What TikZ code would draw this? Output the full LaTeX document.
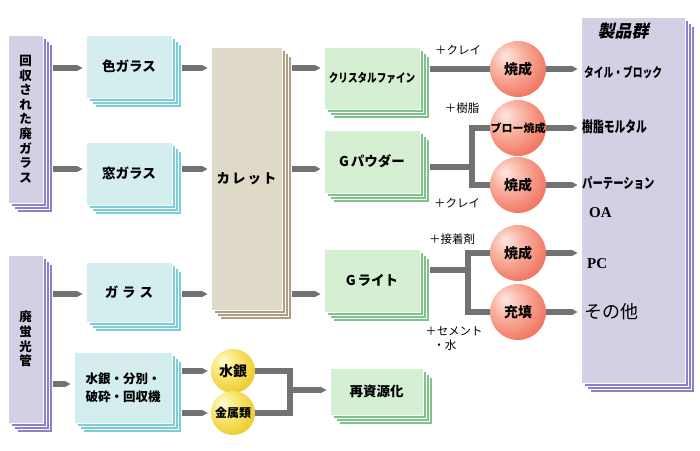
\documentclass[tikz,border=0pt]{standalone}
\usepackage{fontspec}
\setmainfont{Noto Sans CJK JP}
\newfontfamily\serifb{Liberation Serif}
\newfontfamily\jpsl{Noto Sans CJK JP}[FakeSlant=0.22]
\usetikzlibrary{arrows.meta,calc,shadings}
\pgfdeclarelayer{bg}\pgfsetlayers{bg,main}
\definecolor{pfill}{HTML}{D3CFE4}
\definecolor{pedge}{HTML}{8B80CC}
\definecolor{cfill}{HTML}{D4EEF0}
\definecolor{cedge}{HTML}{7CCFD8}
\definecolor{tfill}{HTML}{DEDAC7}
\definecolor{tedge}{HTML}{B09C80}
\definecolor{gfill}{HTML}{D5EFD3}
\definecolor{gedge}{HTML}{7CC48A}
\definecolor{conn}{HTML}{727272}
\definecolor{r0}{RGB}{253,232,225}
\definecolor{r1}{RGB}{249,180,162}
\definecolor{r2}{RGB}{238,100,80}
\definecolor{r3}{RGB}{222,62,46}
\definecolor{y0}{RGB}{255,252,215}
\definecolor{y1}{RGB}{250,232,120}
\definecolor{y2}{RGB}{232,196,30}
\definecolor{y3}{RGB}{205,160,10}
\pgfdeclareradialshading{redsh}{\pgfpoint{-12bp}{12bp}}{color(0bp)=(r0); color(14bp)=(r1); color(38bp)=(r2); color(60bp)=(r3); color(70bp)=(r3)}
\pgfdeclareradialshading{yelsh}{\pgfpoint{-12bp}{12bp}}{color(0bp)=(y0); color(14bp)=(y1); color(38bp)=(y2); color(60bp)=(y3); color(70bp)=(y3)}
\tikzset{
  box/.style={draw=white,line width=0.8pt,inner sep=0pt,align=center,
    font=\bfseries\fontsize{13.5}{15}\selectfont},
  line/.style={draw=conn,line width=6pt},
  arr/.style={draw=conn,line width=6pt,-{Triangle[length=6pt,width=6pt]},shorten >=3pt},
  rball/.style={circle,minimum size=56pt,inner sep=0pt,shading=redsh,
    font=\bfseries\fontsize{14}{15}\selectfont},
  yball/.style={circle,minimum size=44pt,inner sep=0pt,shading=yelsh,
    font=\bfseries\fontsize{14}{15}\selectfont},
  lab/.style={inner sep=0pt,font=\fontsize{11.5}{14}\selectfont},
  ptext/.style={inner sep=0pt,anchor=west}
}
% name, cx, cy, w, h, edge colour, node options, text
\newcommand\stk[8]{%
  \foreach \off in {9,6,3}{\path[fill=#6,draw=white,line width=0.8pt]
    (#2+\off-#4/2,#3+\off-#5/2) rectangle ++(#4,#5);}
  \node[box,minimum width=#4pt,minimum height=#5pt,#7] (#1) at (#2,#3) {#8};}
\begin{document}
\begin{tikzpicture}[x=1pt,y=-1pt]
\begin{pgfonlayer}{bg}
\fill[white] (0,0) rectangle (700,450);
\end{pgfonlayer}
\useasboundingbox (0,0) rectangle (700,450);

% boxes
\stk{lb1}{25.5}{119}{35}{168}{pedge}{fill=pfill,font=\bfseries\fontsize{12.5}{14.6}\selectfont}{回\\収\\さ\\れ\\た\\廃\\ガ\\ラ\\ス}
\stk{lb2}{25.5}{339}{35}{168}{pedge}{fill=pfill,font=\bfseries\fontsize{12.5}{14.6}\selectfont}{廃\\蛍\\光\\管}
\stk{cg}{129}{66.5}{86}{63}{cedge}{fill=cfill}{色ガラス}
\stk{mg}{129}{173.5}{86}{63}{cedge}{fill=cfill}{窓ガラス}
\stk{gl}{129}{292}{86}{60}{cedge}{fill=cfill}{ガ\hspace{4pt}ラ\hspace{4pt}ス}
\stk{hg}{123}{387.5}{98}{71}{cedge}{fill=cfill,font=\bfseries\fontsize{12.5}{18}\selectfont}{水銀・分別・\\破砕・回収機}
\stk{kr}{246.5}{178.5}{71}{263}{tedge}{fill=tfill}{カ\hspace{2pt}レ\hspace{2pt}ッ\hspace{2pt}ト}
\stk{cf}{372}{78}{96}{62}{gedge}{fill=gfill,font=\bfseries\fontsize{12}{13}\selectfont}{\scalebox{0.8}[1]{クリスタルファイン}}
\stk{gp}{372}{161.5}{96}{63}{gedge}{fill=gfill}{G\hspace{2pt}パウダー}
\stk{gr}{372}{280.5}{96}{63}{gedge}{fill=gfill}{G\hspace{2pt}ライト}
\stk{rs}{376.5}{391.5}{93}{47}{gedge}{fill=gfill}{再資源化}
\stk{pr}{633}{200}{104}{366}{pedge}{fill=pfill}{}

% balls
\node[rball] (b1) at (518,69) {焼成};
\node[rball,font=\bfseries\fontsize{11}{12}\selectfont] (bl) at (518,128) {ブロー焼成};
\node[rball] (b2) at (518,185) {焼成};
\node[rball] (b3) at (518,253) {焼成};
\node[rball] (jt) at (518,312) {充填};
\node[yball] (hgc) at (233,371) {水銀};
\node[yball,font=\bfseries\fontsize{12}{13}\selectfont] (mt) at (233,413) {金属類};

% helper coordinates
\coordinate (w1) at (0,68);
\coordinate (w2) at (0,169);
\coordinate (w3) at (0,294);
\coordinate (w4) at (0,384);
\coordinate (lb1e) at ($(lb1.east)+(10,0)$);
\coordinate (lb2e) at ($(lb2.east)+(10,0)$);
\coordinate (cge) at ($(cg.east)+(10,0)$);
\coordinate (mge) at ($(mg.east)+(10,0)$);
\coordinate (gle) at ($(gl.east)+(10,0)$);
\coordinate (hge) at ($(hg.east)+(10,0)$);
\coordinate (kre) at ($(kr.east)+(10,0)$);
\coordinate (cfe) at ($(cf.east)+(10,0)$);
\coordinate (gpe) at ($(gp.east)+(10,0)$);
\coordinate (gre) at ($(gr.east)+(10,0)$);
\coordinate (j1) at (472,167);
\coordinate (j2) at (468,270);
\coordinate (j3) at (290,390);

\begin{pgfonlayer}{bg}
\draw[arr] (lb1e |- w1) -- (cg.west |- w1);
\draw[arr] (lb1e |- w2) -- (mg.west |- w2);
\draw[arr] (lb2e |- w3) -- (gl.west |- w3);
\draw[arr] (lb2e |- w4) -- (hg.west |- w4);
\draw[arr] (cge |- w1) -- (kr.west |- w1);
\draw[arr] (mge |- w2) -- (kr.west |- w2);
\draw[arr] (gle |- w3) -- (kr.west |- w3);
\draw[arr] (kre |- w1) -- (cf.west |- w1);
\draw[arr] (kre |- w2) -- (gp.west |- w2);
\draw[arr] (kre |- w3) -- (gr.west |- w3);
\draw[arr] (hge |- hgc) -- (hgc.west);
\draw[arr] (hge |- mt) -- (mt.west);
\draw[line] (hgc.center) -| (j3) |- (mt.center);
\draw[arr] (j3) -- (rs.west |- j3);
\draw[line] (cfe |- b1) -- (b1.center);
\draw[line] (gpe |- j1) -- (j1);
\draw[line] (bl.center) -| (j1) |- (b2.center);
\draw[line] (gre |- j2) -- (j2);
\draw[line] (b3.center) -| (j2) |- (jt.center);
\end{pgfonlayer}
\draw[arr] (b1.east) -- (pr.west |- b1);
\draw[arr] (bl.east) -- (pr.west |- bl);
\draw[arr] (b2.east) -- (pr.west |- b2);
\draw[arr] (b3.east) -- (pr.west |- b3);
\draw[arr] (jt.east) -- (pr.west |- jt);

% labels
\node[lab] (l1) at (458,50) {＋クレイ};
\node[lab] (l2) at (462,108) {＋樹脂};
\node[lab] (l3) at (457,203) {＋クレイ};
\node[lab] (l4) at (452,239) {＋接着剤};
\node[lab,align=left] (l5) at (454,339) {＋セメント\\\hspace{0.7em}・水};

% product texts
\node[inner sep=0pt,font=\jpsl\bfseries\fontsize{17}{19}\selectfont] (t0) at (623,31) {製品群};
\node[ptext,font=\bfseries\fontsize{13}{15}\selectfont] (t1) at (584,72) {\scalebox{0.75}[1]{タイル・ブロック}};
\node[ptext,font=\bfseries\fontsize{15}{17}\selectfont] (t2) at (582,127) {\scalebox{0.72}[1]{樹脂モルタル}};
\node[ptext,font=\bfseries\fontsize{14}{16}\selectfont] (t3) at (582,183) {\scalebox{0.74}[1]{パーテーション}};
\node[ptext,font=\serifb\bfseries\fontsize{15}{17}\selectfont] (t4) at (589,213) {OA};
\node[ptext,font=\serifb\bfseries\fontsize{15}{17}\selectfont] (t5) at (587,264) {PC};
\node[ptext,font=\fontsize{18}{20}\selectfont] (t6) at (584,312) {その他};
\end{tikzpicture}
\end{document}
